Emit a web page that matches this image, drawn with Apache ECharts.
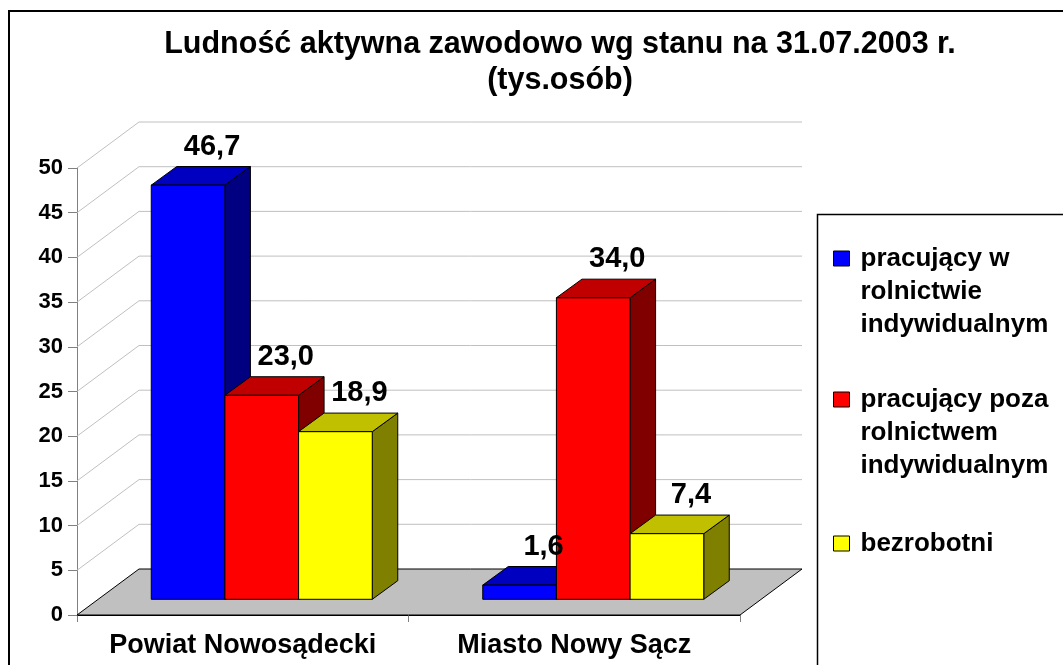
<!DOCTYPE html>
<html><head><meta charset="utf-8">
<script src="https://cdn.jsdelivr.net/npm/echarts@6/dist/echarts.min.js"></script>
<style>html,body{margin:0;padding:0;background:#fff}#c{width:1063px;height:665px}</style>
</head><body><div id="c"></div>
<script>
// ---- data ----
const categories = ['Powiat Nowosądecki', 'Miasto Nowy Sącz'];
const seriesNames = ['pracujący w rolnictwie indywidualnym', 'pracujący poza rolnictwem indywidualnym', 'bezrobotni'];
const legendLabels = ['pracujący w\nrolnictwie\nindywidualnym', 'pracujący poza\nrolnictwem\nindywidualnym', 'bezrobotni'];
const rolnictwo = [46.7, 1.6];
const pozaRolnictwem = [23.0, 34.0];
const bezrobotni = [18.9, 7.4];
const yTicks = [0, 5, 10, 15, 20, 25, 30, 35, 40, 45, 50];
const titleText = 'Ludność aktywna zawodowo wg stanu na 31.07.2003 r.\n(tys.osób)';

// ---- style / geometry ----
const FONT = '"Liberation Sans", Arial, sans-serif';
const DX = 62, DY = 46;           // depth of the floor / back wall
const BAR_DX = 19, BAR_DY = 15.7; // bar front plane offset
const BD_X = 25.5, BD_Y = 18.6;   // bar depth
const BAR_FRAC = 2 / 9;
const BAR_SCALE = 0.992;          // slight perspective shrink of the bar plane
const LABEL_DX = 24;
const palettes = [
  {front: '#0000FF', top: '#0000C0', side: '#000080'},
  {front: '#FF0000', top: '#C00000', side: '#800000'},
  {front: '#FFFF00', top: '#C0C000', side: '#808000'}
];
const seriesValues = [rolnictwo, pozaRolnictwem, bezrobotni];

function fmt(v) { return v.toFixed(1).replace('.', ','); }

function wallItem(params, api) {
  const cs = params.coordSys;
  const v = api.value(1);
  const y = api.coord([0, v])[1];
  const x0 = cs.x, x1 = cs.x + cs.width;
  return {
    type: 'polyline', silent: true,
    shape: {points: [[x0, y], [x0 + DX, y - DY], [x1 + DX, y - DY]]},
    style: {stroke: '#c0c0c0', lineWidth: 1, fill: null}
  };
}
function floorItem(params, api) {
  const cs = params.coordSys;
  const y = api.coord([0, 0])[1];
  const x0 = cs.x, x1 = cs.x + cs.width;
  return {
    type: 'polygon', silent: true,
    shape: {points: [[x0, y], [x1, y], [x1 + DX, y - DY], [x0 + DX, y - DY]]},
    style: {fill: '#c0c0c0', stroke: '#000', lineWidth: 1}
  };
}
function barRenderer(idx) {
  const pal = palettes[idx];
  return function (params, api) {
    const cat = api.value(0), v = api.value(1);
    const base = api.coord([cat, 0]);
    const top = api.coord([cat, v]);
    const band = api.size([1, 0])[0];
    const w = band * BAR_FRAC;
    const xL = base[0] - 1.5 * w + idx * w + BAR_DX;
    const xR = xL + w;
    const yB = base[1] - BAR_DY;
    const yT = yB + (top[1] - base[1]) * BAR_SCALE;
    const st = {stroke: '#000', lineWidth: 1};
    return {
      type: 'group',
      children: [
        {type: 'polygon', z2: idx * 3, shape: {points: [[xR, yT], [xR + BD_X, yT - BD_Y], [xR + BD_X, yB - BD_Y], [xR, yB]]},
          style: Object.assign({fill: pal.side}, st)},
        {type: 'polygon', z2: idx * 3 + 1, shape: {points: [[xL, yT], [xR, yT], [xR + BD_X, yT - BD_Y], [xL + BD_X, yT - BD_Y]]},
          style: Object.assign({fill: pal.top}, st)},
        {type: 'rect', z2: idx * 3 + 2, shape: {x: xL, y: yT, width: w, height: yB - yT},
          style: Object.assign({fill: pal.front}, st)},
        {type: 'text', z2: 100, style: {text: fmt(v), x: (xL + xR) / 2 + LABEL_DX, y: yT - BD_Y - 20,
          align: 'center', verticalAlign: 'middle', font: 'bold 29px ' + FONT, fill: '#000'}}
      ]
    };
  };
}

const series = [
  {type: 'custom', name: '_wall', silent: true, z: 1, data: yTicks.slice(1).map(v => [0, v]), renderItem: wallItem},
  {type: 'custom', name: '_floor', silent: true, z: 1, data: [[0, 0]], renderItem: floorItem}
];
seriesNames.forEach((name, i) => {
  series.push({
    type: 'custom', name: name, z: 2,
    itemStyle: {color: palettes[i].front},
    data: seriesValues[i].map((v, c) => [c, v]),
    renderItem: barRenderer(i)
  });
});

// multi-line legend entries: two blank lines above so that the first line sits beside the swatch
const legendPads = [[0, 0, 0, 6], [0, 0, 0, 6], [69, 0, 69, 6]];

const chart = echarts.init(document.getElementById('c'), null, {renderer: 'canvas'});
chart.setOption({
  animation: false,
  backgroundColor: '#fff',
  title: {
    text: titleText, left: 560, top: 27, textAlign: 'center', padding: 0,
    textStyle: {fontFamily: FONT, fontWeight: 'bold', fontSize: 30.5, lineHeight: 36, color: '#000'}
  },
  grid: {left: 77, right: 323, top: 168, bottom: 50, containLabel: false},
  xAxis: {
    type: 'category', data: categories,
    axisLine: {show: true, lineStyle: {color: '#000'}},
    axisTick: {show: true, length: 7, lineStyle: {color: '#808080'}},
    axisLabel: {interval: 0, margin: 17, color: '#000', fontFamily: FONT, fontWeight: 'bold', fontSize: 27},
    splitLine: {show: false}
  },
  yAxis: {
    type: 'value', min: yTicks[0], max: yTicks[yTicks.length - 1], interval: yTicks[1] - yTicks[0],
    axisLine: {show: true, lineStyle: {color: '#808080'}},
    axisTick: {show: true, length: 9, lineStyle: {color: '#808080'}},
    axisLabel: {margin: 14, color: '#000', fontFamily: FONT, fontWeight: 'bold', fontSize: 22},
    splitLine: {show: false}
  },
  legend: {
    orient: 'vertical', left: 833, top: 176, padding: 0, itemGap: -24,
    icon: 'rect', itemWidth: 16, itemHeight: 15,
    itemStyle: {borderColor: '#000', borderWidth: 1},
    data: seriesNames.map((n, i) => ({name: n, textStyle: {padding: legendPads[i]}})),
    formatter: function (name) {
      const t = legendLabels[seriesNames.indexOf(name)];
      return t.indexOf('\n') >= 0 ? ' \n \n' + t : t;
    },
    textStyle: {fontFamily: FONT, fontWeight: 'bold', fontSize: 26, lineHeight: 33, color: '#000'},
    selectedMode: false
  },
  graphic: [
    {type: 'rect', silent: true, z: 0, shape: {x: 9, y: 11, width: 1200, height: 800}, style: {fill: null, stroke: '#000', lineWidth: 2}},
    {type: 'rect', silent: true, z: 0, shape: {x: 817.5, y: 214.5, width: 400, height: 600}, style: {fill: null, stroke: '#000', lineWidth: 1.5}}
  ],
  series: series
});
</script>
</body></html>
